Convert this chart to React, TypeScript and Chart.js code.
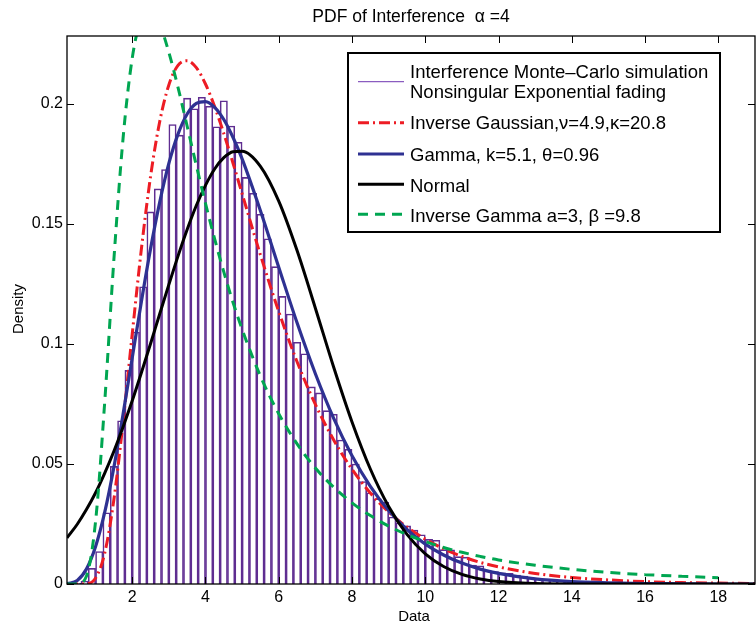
import React, { useEffect, useRef } from 'react';
import { Chart, registerables } from 'chart.js';

Chart.register(...registerables);

const FONT = "'Liberation Sans', Arial, Helvetica, sans-serif";

const titleText = 'PDF of Interference  \u03b1 =4';
const xLabel = 'Data';
const yLabel = 'Density';

const xTicks = [2, 4, 6, 8, 10, 12, 14, 16, 18];
const yTicks = [0, 0.05, 0.1, 0.15, 0.2];
const yTickLabels = ['0', '0.05', '0.1', '0.15', '0.2'];
const xMin = 0.22;
const xMax = 19.0;
const yMax = 0.2283;

// histogram (bin width 0.2)
const binCenters = [
  0.3, 0.5, 0.7, 0.9, 1.1, 1.3, 1.5, 1.7, 1.9, 2.1,
  2.3, 2.5, 2.7, 2.9, 3.1, 3.3, 3.5, 3.7, 3.9, 4.1,
  4.3, 4.5, 4.7, 4.9, 5.1, 5.3, 5.5, 5.7, 5.9, 6.1,
  6.3, 6.5, 6.7, 6.9, 7.1, 7.3, 7.5, 7.7, 7.9, 8.1,
  8.3, 8.5, 8.7, 8.9, 9.1, 9.3, 9.5, 9.7, 9.9, 10.1,
  10.3, 10.5, 10.7, 10.9, 11.1, 11.3, 11.5, 11.7, 11.9, 12.1,
  12.3, 12.5, 12.7, 12.9, 13.1, 13.3, 13.5, 13.7, 13.9, 14.1,
  14.3, 14.5, 14.7, 14.9, 15.1, 15.3, 15.5, 15.7, 15.9, 16.1,
  16.3, 16.5, 16.7, 16.9, 17.1, 17.3, 17.5, 17.7, 17.9, 18.1,
  18.3, 18.5, 18.7, 18.9,
];
const histValues = [
  0, 0.0003, 0.0012, 0.0065, 0.0135, 0.0297, 0.049, 0.068, 0.089, 0.105,
  0.1238, 0.155, 0.1646, 0.1727, 0.1914, 0.187, 0.2024, 0.198, 0.2028, 0.199,
  0.1905, 0.2013, 0.1908, 0.184, 0.1694, 0.1628, 0.154, 0.1438, 0.1322, 0.1198,
  0.1125, 0.1007, 0.0959, 0.0821, 0.0796, 0.0722, 0.0707, 0.06, 0.0561, 0.05,
  0.0427, 0.038, 0.0355, 0.034, 0.0279, 0.0255, 0.0242, 0.0225, 0.0205, 0.0186,
  0.0182, 0.0143, 0.0142, 0.0114, 0.0112, 0.0079, 0.0076, 0.0058, 0.0052, 0.0047,
  0.0044, 0.0037, 0.0033, 0.0026, 0.0024, 0.0018, 0.0019, 0.0013, 0.0012, 0.001,
  0.0008, 0.0006, 0.0007, 0.0005, 0.0005, 0.0003, 0.0003, 0.0002, 0.0002, 0.0002,
  0.0001, 0.0001, 0.0001, 0.0001, 0.0001, 0, 0.0001, 0, 0, 0.0001,
  0, 0, 0, 0.0001,
];

// fitted curves, read at these x positions
const curveX = [
  0.22, 0.5, 0.75, 1, 1.25, 1.5, 1.75, 2, 2.25, 2.5,
  2.75, 3, 3.25, 3.5, 3.75, 4, 4.25, 4.5, 4.75, 5,
  5.5, 6, 6.5, 7, 7.5, 8, 8.5, 9, 9.5, 10,
  10.5, 11, 11.5, 12, 13, 14, 15, 16, 17, 18, 19,
];
const invGaussY = [
  0, 0, 0.0001, 0.0025, 0.0129, 0.0352, 0.0674, 0.1041, 0.1395, 0.1697,
  0.1926, 0.2079, 0.2161, 0.218, 0.2151, 0.2083, 0.1989, 0.1877, 0.1754, 0.1626,
  0.1371, 0.1135, 0.0926, 0.0748, 0.06, 0.0478, 0.0379, 0.03, 0.0237, 0.0187,
  0.0147, 0.0115, 0.009, 0.0071, 0.0044, 0.0027, 0.0017, 0.001, 0.0006, 0.0004, 0.0002,
];
const gammaY = [
  0.0001, 0.0015, 0.0062, 0.0156, 0.0299, 0.0487, 0.0707, 0.0942, 0.1176, 0.1396,
  0.159, 0.1752, 0.1874, 0.1958, 0.2002, 0.201, 0.1986, 0.1935, 0.1861, 0.1771,
  0.1555, 0.132, 0.1088, 0.0876, 0.069, 0.0534, 0.0407, 0.0306, 0.0227, 0.0166,
  0.0121, 0.0087, 0.0062, 0.0044, 0.0021, 0.001, 0.0005, 0.0002, 0.0001, 0, 0,
];
const normalY = [
  0.0192, 0.0249, 0.031, 0.038, 0.0462, 0.0553, 0.0654, 0.0763, 0.088, 0.1001,
  0.1125, 0.1247, 0.1366, 0.1477, 0.1577, 0.1661, 0.1729, 0.1776, 0.1801, 0.1803,
  0.174, 0.1595, 0.1389, 0.1149, 0.0903, 0.0675, 0.0479, 0.0323, 0.0207, 0.0126,
  0.0073, 0.004, 0.0021, 0.001, 0.0002, 0, 0, 0, 0, 0, 0,
];
const invGammaY = [
  0, 0, 0.0032, 0.0261, 0.0759, 0.1352, 0.1856, 0.219, 0.2357, 0.239,
  0.2332, 0.2215, 0.2069, 0.1907, 0.1744, 0.1586, 0.1438, 0.13, 0.1174, 0.1061,
  0.0866, 0.0709, 0.0584, 0.0483, 0.0403, 0.0338, 0.0285, 0.0241, 0.0206, 0.0177,
  0.0152, 0.0132, 0.0115, 0.01, 0.0078, 0.0061, 0.0048, 0.0039, 0.0032, 0.0026, null,
];

const legendLabels = [
  ['Interference Monte\u2013Carlo simulation', 'Nonsingular Exponential fading'],
  ['Inverse Gaussian,\u03bd=4.9,\u03ba=20.8'],
  ['Gamma, k=5.1, \u03b8=0.96'],
  ['Normal'],
  ['Inverse Gamma a=3, \u03b2 =9.8'],
];

const COLORS = {
  hist: '#5f2d91',
  histLegend: '#8a5cc0',
  invGauss: '#ed1c24',
  gamma: '#2e3192',
  normal: '#000000',
  invGamma: '#00a651',
};

const DASH_IG = [11, 4, 2, 4];
const DASH_IGAM = [10, 7];

const toPoints = (ys: (number | null)[]) => curveX.map((x, i) => ({ x, y: ys[i] }));

const decorPlugin = {
  id: 'decor',
  afterDraw(chart: any) {
    const ctx = chart.ctx as CanvasRenderingContext2D;
    const ca = chart.chartArea;
    const xs = chart.scales.x;
    const ys = chart.scales.y;
    ctx.save();
    // frame
    ctx.strokeStyle = '#000';
    ctx.lineWidth = 1.3;
    ctx.setLineDash([]);
    ctx.strokeRect(ca.left, ca.top, ca.right - ca.left, ca.bottom - ca.top);
    // inward ticks
    const tl = 7;
    ctx.lineWidth = 1;
    ctx.beginPath();
    xTicks.forEach((v) => {
      const px = Math.round(xs.getPixelForValue(v)) + 0.5;
      ctx.moveTo(px, ca.bottom);
      ctx.lineTo(px, ca.bottom - tl);
      ctx.moveTo(px, ca.top);
      ctx.lineTo(px, ca.top + tl);
    });
    yTicks.forEach((v) => {
      const py = Math.round(ys.getPixelForValue(v)) + 0.5;
      ctx.moveTo(ca.left, py);
      ctx.lineTo(ca.left + tl, py);
      ctx.moveTo(ca.right, py);
      ctx.lineTo(ca.right - tl, py);
    });
    ctx.stroke();

    // title
    ctx.fillStyle = '#000';
    ctx.font = `17.5px ${FONT}`;
    ctx.textAlign = 'center';
    ctx.textBaseline = 'alphabetic';
    ctx.fillText(titleText, (ca.left + ca.right) / 2, 21.5);
    // x label
    ctx.font = `15px ${FONT}`;
    ctx.fillText(xLabel, (ca.left + ca.right) / 2 + 3, 620.5);
    // y label
    ctx.save();
    ctx.translate(23, 309);
    ctx.rotate(-Math.PI / 2);
    ctx.fillText(yLabel, 0, 0);
    ctx.restore();

    // legend
    const bx = ca.right - 407;
    const by = ca.top + 17;
    const bw = 372;
    const bh = 179;
    ctx.fillStyle = '#fff';
    ctx.fillRect(bx, by, bw, bh);
    ctx.strokeStyle = '#000';
    ctx.lineWidth = 2;
    ctx.strokeRect(bx, by, bw, bh);

    const sx1 = bx + 10;
    const sx2 = bx + 56;
    const tx = bx + 62;
    const rows = [
      { sy: by + 28.7, base: [by + 25.3, by + 45.3], color: COLORS.histLegend, w: 1.3, dash: [] as number[] },
      { sy: by + 69.7, base: [by + 76.3], color: COLORS.invGauss, w: 3, dash: DASH_IG },
      { sy: by + 101, base: [by + 107.7], color: COLORS.gamma, w: 3.2, dash: [] },
      { sy: by + 131.3, base: [by + 138.7], color: COLORS.normal, w: 3, dash: [] },
      { sy: by + 161.3, base: [by + 168.7], color: COLORS.invGamma, w: 3, dash: DASH_IGAM },
    ];
    ctx.font = `18.5px ${FONT}`;
    ctx.textAlign = 'left';
    rows.forEach((r, i) => {
      ctx.strokeStyle = r.color;
      ctx.lineWidth = r.w;
      ctx.setLineDash(r.dash);
      ctx.beginPath();
      ctx.moveTo(sx1, r.sy);
      ctx.lineTo(sx2, r.sy);
      ctx.stroke();
      ctx.setLineDash([]);
      ctx.fillStyle = '#000';
      legendLabels[i].forEach((t, j) => ctx.fillText(t, tx, r.base[j]));
    });
    ctx.restore();
  },
};

export default function App() {
  const ref = useRef<HTMLCanvasElement | null>(null);
  useEffect(() => {
    if (!ref.current) return;
    const chart = new Chart(ref.current, {
      type: 'bar',
      data: {
        datasets: [
          {
            type: 'bar',
            label: 'hist',
            data: binCenters.map((x, i) => ({ x, y: histValues[i] })),
            backgroundColor: '#ffffff',
            borderColor: COLORS.hist,
            borderWidth: 1.6,
            barPercentage: 1,
            categoryPercentage: 1,
            order: 10,
          } as any,
          {
            type: 'line',
            label: 'ig',
            data: toPoints(invGaussY),
            borderColor: COLORS.invGauss,
            borderWidth: 3,
            borderDash: DASH_IG,
            pointRadius: 0,
            fill: false,
            cubicInterpolationMode: 'monotone',
            order: 5,
          } as any,
          {
            type: 'line',
            label: 'gamma',
            data: toPoints(gammaY),
            borderColor: COLORS.gamma,
            borderWidth: 3.2,
            pointRadius: 0,
            fill: false,
            cubicInterpolationMode: 'monotone',
            order: 4,
          } as any,
          {
            type: 'line',
            label: 'normal',
            data: toPoints(normalY),
            borderColor: COLORS.normal,
            borderWidth: 3,
            pointRadius: 0,
            fill: false,
            cubicInterpolationMode: 'monotone',
            order: 3,
          } as any,
          {
            type: 'line',
            label: 'invgamma',
            data: toPoints(invGammaY),
            borderColor: COLORS.invGamma,
            borderWidth: 3,
            borderDash: DASH_IGAM,
            pointRadius: 0,
            fill: false,
            spanGaps: false,
            cubicInterpolationMode: 'monotone',
            order: 2,
          } as any,
        ],
      },
      options: {
        animation: false,
        responsive: false,
        devicePixelRatio: 1,
        layout: { padding: { top: 36, right: 1, left: 0, bottom: 0 } },
        plugins: {
          legend: { display: false },
          tooltip: { enabled: false },
          title: { display: false },
        },
        scales: {
          x: {
            type: 'linear',
            min: xMin,
            max: xMax,
            offset: false,
            grid: { display: false, drawTicks: false },
            border: { display: false },
            afterBuildTicks: (s: any) => {
              s.ticks = xTicks.map((v) => ({ value: v }));
            },
            afterFit: (s: any) => {
              s.height = 41;
            },
            ticks: {
              color: '#000',
              font: { family: FONT, size: 16 },
              padding: 4,
              maxRotation: 0,
              autoSkip: false,
              callback: (v: any) => String(v),
            },
          },
          y: {
            type: 'linear',
            min: 0,
            max: yMax,
            grid: { display: false, drawTicks: false },
            border: { display: false },
            afterBuildTicks: (s: any) => {
              s.ticks = yTicks.map((v) => ({ value: v }));
            },
            afterFit: (s: any) => {
              s.width = 67;
            },
            ticks: {
              color: '#000',
              font: { family: FONT, size: 16 },
              padding: 4,
              autoSkip: false,
              callback: (v: any) => {
                const i = yTicks.findIndex((t) => Math.abs(t - v) < 1e-9);
                return i >= 0 ? yTickLabels[i] : '';
              },
            },
          },
        },
      } as any,
      plugins: [decorPlugin],
    });
    return () => chart.destroy();
  }, []);
  return (
    <div style={{ position: 'absolute', left: 0, top: 0, width: 756, height: 625, background: '#fff' }}>
      <canvas ref={ref} width={756} height={625} style={{ display: 'block', width: 756, height: 625 }} />
    </div>
  );
}
